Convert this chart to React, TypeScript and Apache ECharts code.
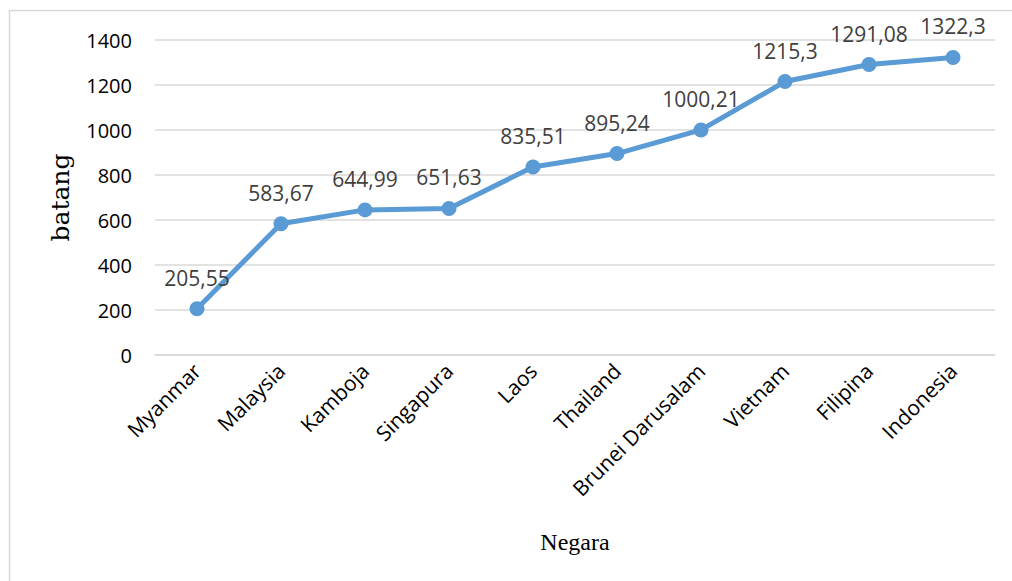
import React, { useEffect, useRef } from "react";
import * as echarts from "echarts";

const categories = ["Myanmar", "Malaysia", "Kamboja", "Singapura", "Laos", "Thailand", "Brunei Darusalam", "Vietnam", "Filipina", "Indonesia"];
const values = [205.55, 583.67, 644.99, 651.63, 835.51, 895.24, 1000.21, 1215.3, 1291.08, 1322.3];
const valueLabels = ["205,55", "583,67", "644,99", "651,63", "835,51", "895,24", "1000,21", "1215,3", "1291,08", "1322,3"];
const yTicks = [0, 200, 400, 600, 800, 1000, 1200, 1400];
const yName = "batang";
const xName = "Negara";

export default function App() {
  const ref = useRef<HTMLDivElement>(null);
  useEffect(() => {
    if (!ref.current) return;
    const chart = echarts.init(ref.current, null, { renderer: "svg" });
    chart.setOption({
      animation: false,
      backgroundColor: "#ffffff",
      graphic: [
        {
          type: "rect",
          shape: { x: 9.5, y: 10.5, width: 1010, height: 580 },
          style: { fill: "none", stroke: "#d9d9d9", lineWidth: 1.5 },
          silent: true,
        },
      ],
      grid: { left: 155, right: 17, top: 40, bottom: 226 },
      xAxis: {
        type: "category",
        data: categories,
        boundaryGap: true,
        axisLine: { show: true, lineStyle: { color: "#d9d9d9", width: 1.5 } },
        axisTick: { show: false },
        axisLabel: {
          rotate: 45,
          interval: 0,
          margin: 12,
          fontFamily: "Open Sans",
          fontSize: 21,
          color: "#000000",
        },
        name: xName,
        nameLocation: "middle",
        nameGap: 175,
        nameTextStyle: { fontFamily: "Liberation Serif", fontSize: 24, color: "#000000" },
      },
      yAxis: {
        type: "value",
        min: yTicks[0],
        max: yTicks[yTicks.length - 1],
        interval: yTicks[1] - yTicks[0],
        axisLine: { show: false },
        axisTick: { show: false },
        splitLine: { lineStyle: { color: "#d9d9d9", width: 1.5 } },
        axisLabel: {
          margin: 23,
          fontFamily: "Open Sans",
          fontSize: 20,
          color: "#000000",
          formatter: (v: number) => String(v),
        },
        name: yName,
        nameLocation: "middle",
        nameGap: 82,
        nameTextStyle: { fontFamily: "DejaVu Serif", fontSize: 25, color: "#000000" },
      },
      series: [
        {
          type: "line",
          data: values,
          symbol: "circle",
          symbolSize: 15,
          lineStyle: { color: "#5B9BD5", width: 5 },
          itemStyle: { color: "#5B9BD5" },
          label: {
            show: true,
            position: "top",
            distance: 13,
            fontFamily: "Open Sans",
            fontSize: 21,
            color: "#404040",
            formatter: (p: any) => valueLabels[p.dataIndex],
          },
        },
      ],
    });
    return () => chart.dispose();
  }, []);
  return (
    <div
      ref={ref}
      style={{ position: "absolute", left: 0, top: 0, width: 1012, height: 581 }}
    />
  );
}
